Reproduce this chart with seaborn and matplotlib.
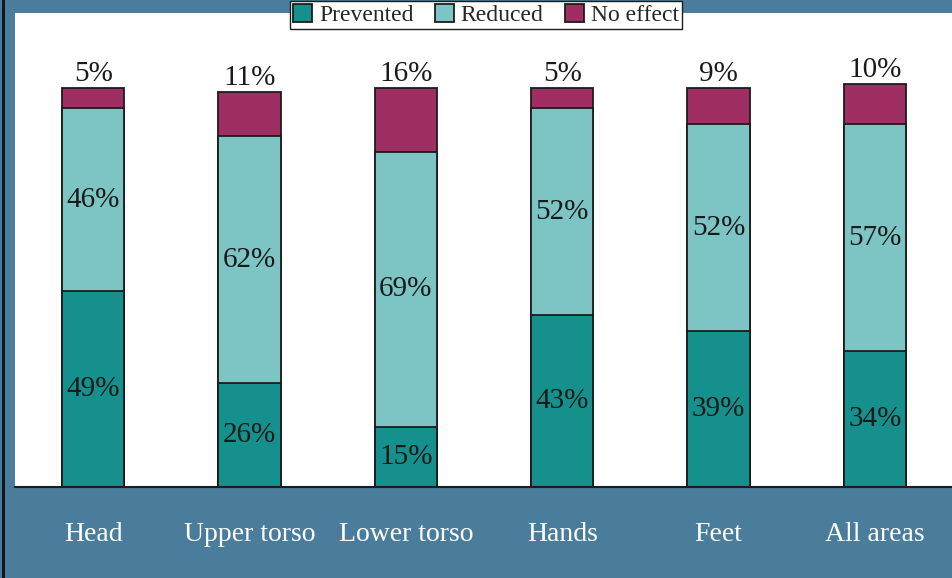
from __future__ import annotations

import matplotlib

matplotlib.use("Agg")

import matplotlib.pyplot as plt
import numpy as np
import pandas as pd
import seaborn as sns

CATEGORIES = ["Head", "Upper torso", "Lower torso", "Hands", "Feet", "All areas"]
PREVENTED = [49, 26, 15, 43, 39, 34]
REDUCED = [46, 62, 69, 52, 52, 57]
NO_EFFECT = [5, 11, 16, 5, 9, 10]
SERIES_NAMES = ["Prevented", "Reduced", "No effect"]

COLORS = {
    "Prevented": "#16908c",
    "Reduced": "#7dc4c4",
    "No effect": "#9f2f63",
}
BACKGROUND = "#4a7d9c"
EDGE = "#1c1c1c"
FONT = "Liberation Serif"


def build_frame() -> pd.DataFrame:
    frame = pd.DataFrame(
        {
            "category": CATEGORIES,
            "Prevented": PREVENTED,
            "Reduced": REDUCED,
            "No effect": NO_EFFECT,
        }
    )
    frame["cum_prevented"] = frame["Prevented"]
    frame["cum_reduced"] = frame["cum_prevented"] + frame["Reduced"]
    frame["cum_total"] = frame["cum_reduced"] + frame["No effect"]
    return frame


def draw_chart(frame: pd.DataFrame) -> None:
    fig = plt.figure(figsize=(9.53, 5.78), dpi=100, facecolor=BACKGROUND)
    ax = fig.add_axes([15 / 953, 91 / 578, 938 / 953, 474 / 578])
    ax.set_facecolor("white")

    # stacked bars: draw cumulative heights from the top segment down
    layers = [
        ("cum_total", "No effect"),
        ("cum_reduced", "Reduced"),
        ("cum_prevented", "Prevented"),
    ]
    for column, name in layers:
        sns.barplot(
            data=frame,
            x="category",
            y=column,
            color=COLORS[name],
            width=0.4,
            edgecolor=EDGE,
            linewidth=1.3,
            saturation=1,
            ax=ax,
            label=name,
        )

    x = np.arange(len(CATEGORIES))
    text_kw = dict(family=FONT, fontsize=21, color="#1a1a1a", ha="center")
    for i, row in frame.iterrows():
        ax.text(i, row["cum_prevented"] / 2, f"{row['Prevented']}%", va="center", **text_kw)
        ax.text(
            i,
            row["cum_prevented"] + row["Reduced"] / 2,
            f"{row['Reduced']}%",
            va="center",
            **text_kw,
        )
        ax.text(i, row["cum_total"] + 0.2, f"{row['No effect']}%", va="bottom", **text_kw)

    ax.set_xlim(-0.5, len(CATEGORIES) - 0.5)
    ax.set_ylim(0, 118.8)
    ax.set_xlabel("")
    ax.set_ylabel("")
    ax.set_yticks([])

    ax.set_xticks(x)
    ax.set_xticklabels(CATEGORIES, family=FONT, fontsize=20, color="white")
    ax.set_xticks(np.arange(len(CATEGORIES) + 1) - 0.5, minor=True)
    ax.tick_params(axis="x", which="major", length=0, pad=25)
    ax.tick_params(axis="x", which="minor", length=8, width=1.5, color=EDGE, direction="out")

    for side in ["top", "right", "left"]:
        ax.spines[side].set_visible(False)
    ax.spines["bottom"].set_color(EDGE)
    ax.spines["bottom"].set_linewidth(1.5)

    # left dark border line of the slide
    fig.add_artist(plt.Line2D([3 / 953, 3 / 953], [0, 1], color="#111111", lw=2))

    handles, labels = ax.get_legend_handles_labels()
    order = [labels.index(name) for name in SERIES_NAMES]
    ax.legend(
        [handles[i] for i in order],
        [labels[i] for i in order],
        loc="upper center",
        bbox_to_anchor=(486 / 953, 1 - 1 / 578),
        bbox_transform=fig.transFigure,
        ncol=3,
        frameon=True,
        fancybox=False,
        edgecolor=EDGE,
        facecolor="white",
        framealpha=1,
        prop={"family": FONT, "size": 17},
        handlelength=0.8,
        handleheight=0.8,
        handletextpad=0.3,
        columnspacing=0.9,
        borderpad=0.12,
        borderaxespad=0,
    )

    fig.savefig("out.png", dpi=100, facecolor=BACKGROUND)
    plt.close(fig)


def main() -> None:
    sns.set_style("white")
    frame = build_frame()
    draw_chart(frame)


if __name__ == "__main__":
    main()
